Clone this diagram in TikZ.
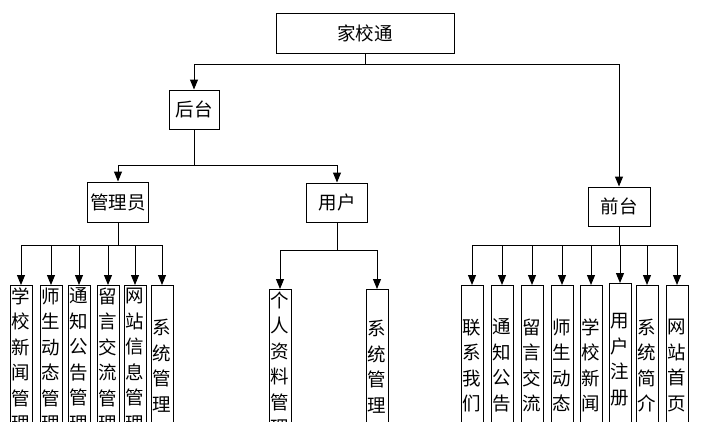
\documentclass[tikz,border=0pt]{standalone}
\usepackage{fontspec}
\newfontfamily\cjk{Noto Sans CJK SC}
\usetikzlibrary{arrows.meta}
\tikzset{
  box/.style={draw, line width=1pt, inner sep=0pt, font=\cjk\fontsize{18.5}{20}\selectfont},
  vbox/.style={draw, line width=1pt, inner sep=0pt, minimum width=22pt, anchor=north, align=center, font=\cjk\fontsize{18.5}{25.5}\selectfont},
  arr/.style={line width=1pt, -{Triangle[length=10pt,width=8pt]}},
  ln/.style={line width=1pt}
}
\begin{document}
\begin{tikzpicture}[x=1pt,y=-1pt]
\useasboundingbox (0,0) rectangle (702,421);
\clip (0,0) rectangle (702,421);
% main nodes
\node[box, minimum width=178pt, minimum height=40pt] (top) at (365,33) {家校通};
\node[box, minimum width=50pt, minimum height=39pt] (hou) at (194,109.5) {后台};
\node[box, minimum width=62pt, minimum height=39pt] (qian) at (619,206.5) {前台};
\node[box, minimum width=61pt, minimum height=40pt] (adm) at (118,202) {管理员};
\node[box, minimum width=61pt, minimum height=39pt] (usr) at (337,202.5) {用户};
% admin children
\node[vbox, minimum height=148pt] (a1) at (21,285) {学\\校\\新\\闻\\管\\理};
\node[vbox, minimum height=148pt] (a2) at (51,285) {师\\生\\动\\态\\管\\理};
\node[vbox, minimum height=148pt] (a3) at (79,285) {通\\知\\公\\告\\管\\理};
\node[vbox, minimum height=148pt] (a4) at (108,285) {留\\言\\交\\流\\管\\理};
\node[vbox, minimum height=148pt] (a5) at (135,285) {网\\站\\信\\息\\管\\理};
\node[vbox, minimum height=160pt] (a6) at (162,285) {系\\统\\管\\理};
% user children
\node[vbox, minimum height=148pt] (u1) at (280,289) {个\\人\\资\\料\\管\\理};
\node[vbox, minimum height=154pt] (u2) at (377,289) {系\\统\\管\\理};
% front children
\node[vbox, minimum height=160pt] (f1) at (472,285) {联\\系\\我\\们};
\node[vbox, minimum height=160pt] (f2) at (502,285) {通\\知\\公\\告};
\node[vbox, minimum height=160pt] (f3) at (532,285) {留\\言\\交\\流};
\node[vbox, minimum height=160pt] (f4) at (562,285) {师\\生\\动\\态};
\node[vbox, minimum height=160pt] (f5) at (591,285) {学\\校\\新\\闻};
\node[vbox, minimum height=152pt] (f6) at (620,283) {用\\户\\注\\册};
\node[vbox, minimum height=160pt] (f7) at (647,285) {系\\统\\简\\介};
\node[vbox, minimum height=160pt] (f8) at (677,285) {网\\站\\首\\页};
% junctions
\coordinate (j0) at (top.south |- 0,64);
\coordinate (j1) at (hou.south |- 0,165);
\coordinate (j2) at (adm.south |- 0,245);
\coordinate (j3) at (usr.south |- 0,250);
\coordinate (j4) at (qian.south |- 0,245);
% connectors
\draw[ln] (top.south) -- (j0);
\draw[arr] (j0) -| (hou.north);
\draw[arr] (j0) -| (qian.north);
\draw[ln] (hou.south) -- (j1);
\draw[arr] (j1) -| (adm.north);
\draw[arr] (j1) -| (usr.north);
\draw[ln] (adm.south) -- (j2);
\foreach \n in {a1,a2,a3,a4,a5,a6} \draw[arr] (j2) -| (\n.north);
\draw[ln] (usr.south) -- (j3);
\foreach \n in {u1,u2} \draw[arr] (j3) -| (\n.north);
\draw[ln] (qian.south) -- (j4);
\foreach \n in {f1,f2,f3,f4,f5,f6,f7,f8} \draw[arr] (j4) -| (\n.north);
\end{tikzpicture}
\end{document}
